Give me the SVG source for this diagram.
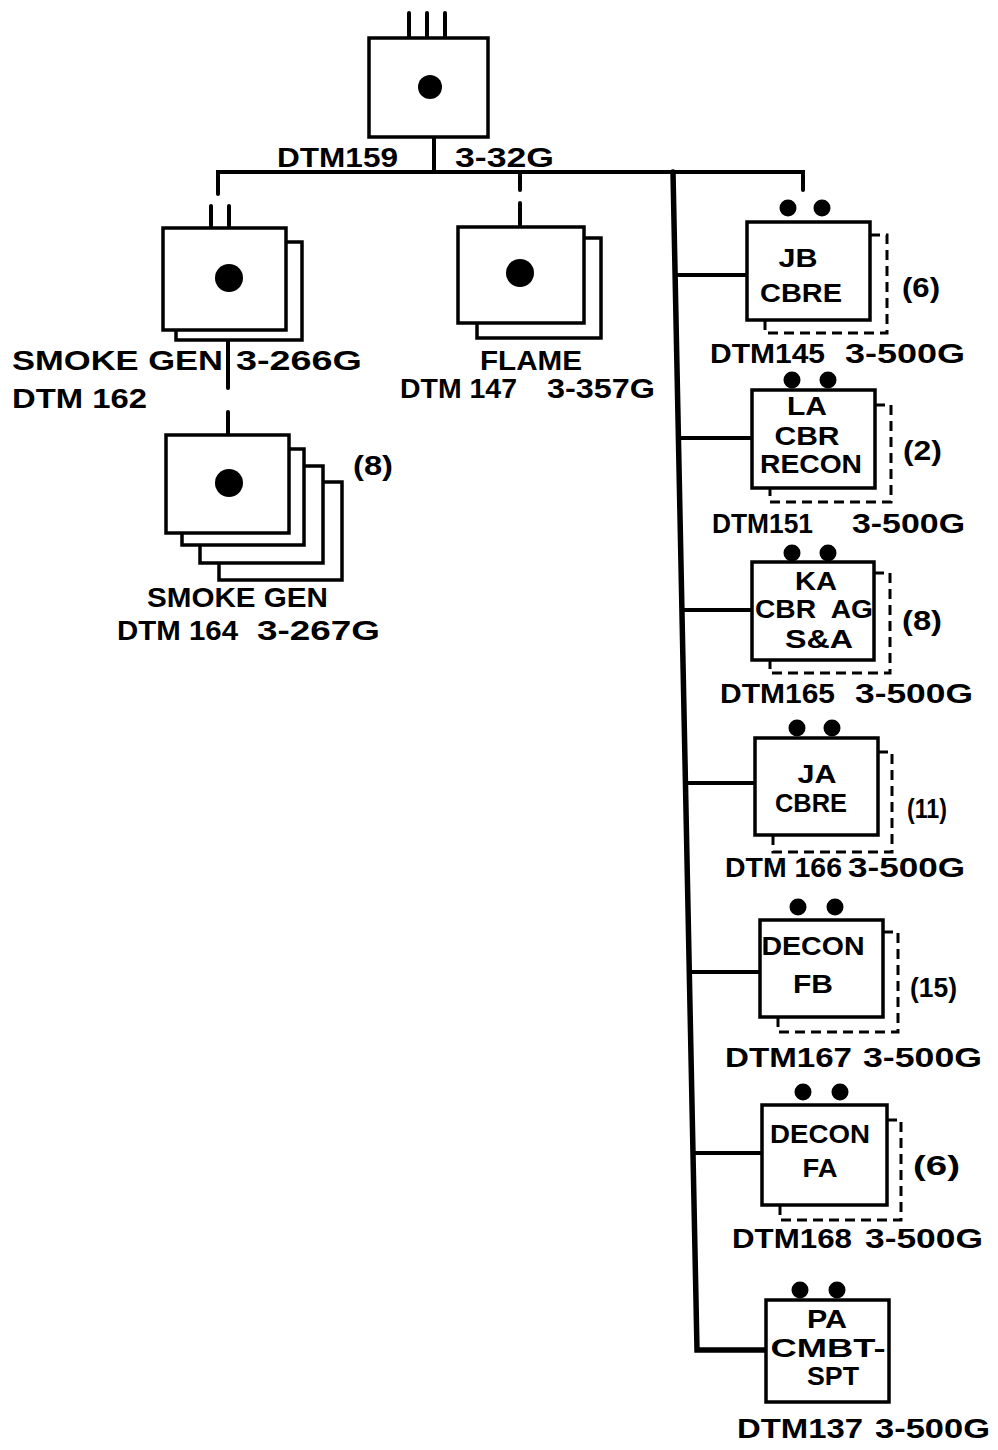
<svg xmlns="http://www.w3.org/2000/svg" width="998" height="1450" viewBox="0 0 998 1450">
<style>
.bx{fill:#fff;stroke:#000;stroke-width:3.5}
.ln{fill:none;stroke:#000;stroke-width:4;stroke-linecap:round}
.ds{fill:none;stroke:#000;stroke-width:3;stroke-dasharray:10 6}
.dot{fill:#000}
text{font-family:"Liberation Sans",Arial,sans-serif;font-weight:bold;fill:#000}
.lb{font-size:28px}
.bt{font-size:26px;text-anchor:middle}
</style>
<rect width="998" height="1450" fill="#fff"/>
<g id="connectors">
<path class="ln" d="M409,13V38M427,13V38M445,13V38"/>
<path class="ln" d="M434,138V172"/>
<path class="ln" d="M218,194V172H803V190"/>
<path class="ln" d="M520,172V190M520,203V226"/>
<path class="ln" d="M211,206V228M229,206V228"/>
<path class="ln" d="M228,338V388M228,412V435"/>
<path class="ln" style="stroke-width:5.5" d="M673,172L697,1350H766"/>
<path class="ln" d="M675,275H747M678,438H752M682,610H752M685,783H755M689,972H760M693,1153H762"/>
</g>
<g id="top">
<rect class="bx" x="369" y="38" width="119" height="99"/>
<circle class="dot" cx="430" cy="87" r="12"/>
<text class="lb" x="277" y="167" textLength="121" lengthAdjust="spacingAndGlyphs">DTM159</text>
<text class="lb" x="455" y="167" textLength="99" lengthAdjust="spacingAndGlyphs">3-32G</text>
</g>
<g id="smoke162">
<rect class="bx" x="176" y="242" width="126" height="98"/>
<rect class="bx" x="163" y="228" width="123" height="102"/>
<circle class="dot" cx="229" cy="278" r="14"/>
<text class="lb" x="12" y="370" textLength="211" lengthAdjust="spacingAndGlyphs">SMOKE GEN</text>
<text class="lb" x="236" y="370" textLength="126" lengthAdjust="spacingAndGlyphs">3-266G</text>
<text class="lb" x="12" y="408" textLength="135" lengthAdjust="spacingAndGlyphs">DTM 162</text>
</g>
<g id="smoke164">
<rect class="bx" x="219" y="482" width="123" height="98"/>
<rect class="bx" x="200" y="466" width="123" height="97"/>
<rect class="bx" x="182" y="449" width="122" height="96"/>
<rect class="bx" x="166" y="435" width="123" height="98"/>
<circle class="dot" cx="229" cy="483" r="14"/>
<text class="lb" x="353" y="475" textLength="40" lengthAdjust="spacingAndGlyphs">(8)</text>
<text class="lb" x="147" y="607" textLength="181" lengthAdjust="spacingAndGlyphs">SMOKE GEN</text>
<text class="lb" x="117" y="640" textLength="121" lengthAdjust="spacingAndGlyphs">DTM 164</text>
<text class="lb" x="257" y="640" textLength="123" lengthAdjust="spacingAndGlyphs">3-267G</text>
</g>
<g id="flame">
<rect class="bx" x="477" y="238" width="124" height="100"/>
<rect class="bx" x="458" y="227" width="126" height="96"/>
<circle class="dot" cx="520" cy="273" r="14"/>
<text class="lb" x="480" y="370" textLength="102" lengthAdjust="spacingAndGlyphs">FLAME</text>
<text class="lb" x="400" y="398" textLength="117" lengthAdjust="spacingAndGlyphs">DTM 147</text>
<text class="lb" x="547" y="398" textLength="108" lengthAdjust="spacingAndGlyphs">3-357G</text>
</g>
<g id="jb">
<path class="ds" d="M870,235H887V333H765V320"/>
<rect class="bx" x="747" y="222" width="123" height="98"/>
<circle class="dot" cx="788" cy="208" r="8.5"/><circle class="dot" cx="822" cy="208" r="8.5"/>
<text class="bt" x="798" y="267" textLength="39" lengthAdjust="spacingAndGlyphs">JB</text>
<text class="bt" x="801" y="302" textLength="82" lengthAdjust="spacingAndGlyphs">CBRE</text>
<text class="lb" x="902" y="297" textLength="38" lengthAdjust="spacingAndGlyphs">(6)</text>
<text class="lb" x="710" y="363" textLength="115" lengthAdjust="spacingAndGlyphs">DTM145</text>
<text class="lb" x="845" y="363" textLength="120" lengthAdjust="spacingAndGlyphs">3-500G</text>
</g>
<g id="la">
<path class="ds" d="M875,405H891V502H770V488"/>
<rect class="bx" x="752" y="390" width="123" height="98"/>
<circle class="dot" cx="792" cy="380" r="8.5"/><circle class="dot" cx="828" cy="380" r="8.5"/>
<text class="bt" x="807" y="415" textLength="40" lengthAdjust="spacingAndGlyphs">LA</text>
<text class="bt" x="807" y="445" textLength="65" lengthAdjust="spacingAndGlyphs">CBR</text>
<text class="bt" x="811" y="473" textLength="102" lengthAdjust="spacingAndGlyphs">RECON</text>
<text class="lb" x="903" y="460" textLength="39" lengthAdjust="spacingAndGlyphs">(2)</text>
<text class="lb" x="712" y="533" textLength="101" lengthAdjust="spacingAndGlyphs">DTM151</text>
<text class="lb" x="852" y="533" textLength="113" lengthAdjust="spacingAndGlyphs">3-500G</text>
</g>
<g id="ka">
<path class="ds" d="M874,573H890V673H770V660"/>
<rect class="bx" x="752" y="562" width="122" height="98"/>
<circle class="dot" cx="792" cy="553" r="8.5"/><circle class="dot" cx="828" cy="553" r="8.5"/>
<text class="bt" x="816" y="590" textLength="42" lengthAdjust="spacingAndGlyphs">KA</text>
<text class="bt" x="814" y="618" textLength="118" lengthAdjust="spacingAndGlyphs" xml:space="preserve">CBR  AG</text>
<text class="bt" x="819" y="648" textLength="68" lengthAdjust="spacingAndGlyphs">S&amp;A</text>
<text class="lb" x="902" y="630" textLength="40" lengthAdjust="spacingAndGlyphs">(8)</text>
<text class="lb" x="720" y="703" textLength="115" lengthAdjust="spacingAndGlyphs">DTM165</text>
<text class="lb" x="855" y="703" textLength="118" lengthAdjust="spacingAndGlyphs">3-500G</text>
</g>
<g id="ja">
<path class="ds" d="M878,752H892V852H773V835"/>
<rect class="bx" x="755" y="738" width="123" height="97"/>
<circle class="dot" cx="797" cy="728" r="8.5"/><circle class="dot" cx="832" cy="728" r="8.5"/>
<text class="bt" x="817" y="783" textLength="39" lengthAdjust="spacingAndGlyphs">JA</text>
<text class="bt" x="811" y="812" textLength="72" lengthAdjust="spacingAndGlyphs">CBRE</text>
<text class="lb" x="907" y="818" textLength="40" lengthAdjust="spacingAndGlyphs">(11)</text>
<text class="lb" x="725" y="877" textLength="117" lengthAdjust="spacingAndGlyphs">DTM 166</text>
<text class="lb" x="848" y="877" textLength="117" lengthAdjust="spacingAndGlyphs">3-500G</text>
</g>
<g id="decon-fb">
<path class="ds" d="M883,932H898V1032H778V1017"/>
<rect class="bx" x="760" y="920" width="123" height="97"/>
<circle class="dot" cx="798" cy="907" r="8.5"/><circle class="dot" cx="835" cy="907" r="8.5"/>
<text class="bt" x="813" y="955" textLength="103" lengthAdjust="spacingAndGlyphs">DECON</text>
<text class="bt" x="813" y="993" textLength="40" lengthAdjust="spacingAndGlyphs">FB</text>
<text class="lb" x="910" y="997" textLength="47" lengthAdjust="spacingAndGlyphs">(15)</text>
<text class="lb" x="725" y="1067" textLength="127" lengthAdjust="spacingAndGlyphs">DTM167</text>
<text class="lb" x="863" y="1067" textLength="119" lengthAdjust="spacingAndGlyphs">3-500G</text>
</g>
<g id="decon-fa">
<path class="ds" d="M887,1120H901V1220H780V1205"/>
<rect class="bx" x="762" y="1105" width="125" height="100"/>
<circle class="dot" cx="803" cy="1092" r="8.5"/><circle class="dot" cx="840" cy="1092" r="8.5"/>
<text class="bt" x="820" y="1143" textLength="100" lengthAdjust="spacingAndGlyphs">DECON</text>
<text class="bt" x="820" y="1177" textLength="35" lengthAdjust="spacingAndGlyphs">FA</text>
<text class="lb" x="913" y="1175" textLength="47" lengthAdjust="spacingAndGlyphs">(6)</text>
<text class="lb" x="732" y="1248" textLength="120" lengthAdjust="spacingAndGlyphs">DTM168</text>
<text class="lb" x="865" y="1248" textLength="118" lengthAdjust="spacingAndGlyphs">3-500G</text>
</g>
<g id="pa">
<rect class="bx" x="766" y="1300" width="123" height="102"/>
<circle class="dot" cx="800" cy="1290" r="8.5"/><circle class="dot" cx="837" cy="1290" r="8.5"/>
<text class="bt" x="827" y="1328" textLength="40" lengthAdjust="spacingAndGlyphs">PA</text>
<text class="bt" x="828" y="1357" textLength="115" lengthAdjust="spacingAndGlyphs">CMBT-</text>
<text class="bt" x="833" y="1385" textLength="52" lengthAdjust="spacingAndGlyphs">SPT</text>
<text class="lb" x="737" y="1438" textLength="126" lengthAdjust="spacingAndGlyphs">DTM137</text>
<text class="lb" x="875" y="1438" textLength="115" lengthAdjust="spacingAndGlyphs">3-500G</text>
</g>
</svg>
